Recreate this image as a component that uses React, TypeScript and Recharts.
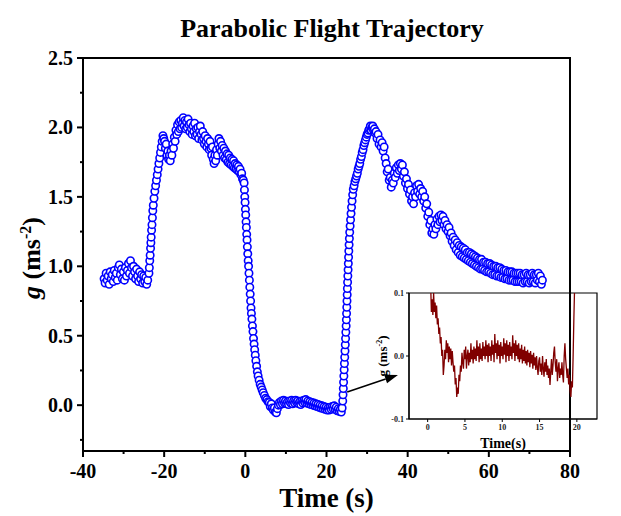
import React from 'react';
import { ScatterChart, Scatter, LineChart, Line, XAxis, YAxis, ReferenceArea, ReferenceLine, Label } from 'recharts';

const FONT = "'Liberation Serif', 'Times New Roman', serif";

// --- main flight record: [time (s), g (ms-2)] ---
const preFlight: number[][] = [
  [-34.8, 0.91], [-34.55, 0.88], [-34.3, 0.95], [-34.05, 0.9], [-33.8, 0.93], [-33.55, 0.87], [-33.3, 0.96],
  [-33.05, 0.91], [-32.8, 0.94], [-32.55, 0.89], [-32.3, 0.97], [-32.05, 0.92], [-31.8, 0.95], [-31.55, 0.9],
  [-31.3, 0.99], [-31.05, 1.01], [-30.8, 0.94], [-30.55, 0.98], [-30.3, 0.91], [-30.05, 0.96], [-29.8, 0.9],
  [-29.55, 0.99], [-29.3, 0.93], [-29.05, 0.97], [-28.8, 1.02], [-28.55, 0.95], [-28.3, 1.04], [-28.05, 0.99],
  [-27.8, 0.93], [-27.55, 1.0], [-27.3, 0.96], [-27.05, 0.91], [-26.8, 0.98], [-26.55, 0.93], [-26.3, 0.89],
  [-26.05, 0.96], [-25.8, 0.91], [-25.55, 0.94], [-25.3, 0.88], [-25.05, 0.93], [-24.8, 0.89], [-24.55, 0.92],
  [-24.3, 0.87], [-24.05, 0.9],
];

const pullUp: number[][] = [
  [-23.75, 0.95], [-23.65, 0.99], [-23.55, 1.04], [-23.45, 1.08], [-23.35, 1.13], [-23.27, 1.17], [-23.2, 1.21],
  [-23.1, 1.26], [-23.0, 1.3], [-22.9, 1.35], [-22.8, 1.4], [-22.68, 1.44], [-22.5, 1.49], [-22.3, 1.54],
  [-22.1, 1.58], [-21.9, 1.62], [-21.7, 1.66], [-21.5, 1.7], [-21.3, 1.74], [-21.1, 1.78], [-20.9, 1.82],
  [-20.7, 1.86], [-20.5, 1.9], [-20.3, 1.94], [-20.1, 1.92],
];

const hyperG: number[][] = [
  [-19.9, 1.9], [-19.7, 1.85], [-19.5, 1.88], [-19.3, 1.8], [-19.1, 1.83], [-18.9, 1.77], [-18.7, 1.8],
  [-18.5, 1.76], [-18.3, 1.83], [-18.1, 1.8], [-17.9, 1.88], [-17.7, 1.85], [-17.5, 1.93], [-17.3, 1.9],
  [-17.1, 1.98], [-16.9, 1.95], [-16.7, 2.02], [-16.5, 1.97], [-16.3, 2.04], [-16.1, 1.99], [-15.9, 2.05],
  [-15.7, 2.0], [-15.5, 2.03], [-15.3, 2.07], [-15.1, 2.01], [-14.9, 2.05], [-14.7, 1.99], [-14.5, 2.04],
  [-14.3, 2.0], [-14.1, 2.06], [-13.9, 2.02], [-13.7, 1.97], [-13.5, 2.03], [-13.3, 1.99], [-13.1, 1.95],
  [-12.9, 2.01], [-12.7, 1.97], [-12.5, 2.03], [-12.3, 1.94], [-12.1, 1.99], [-11.9, 1.95], [-11.7, 2.0],
  [-11.5, 1.92], [-11.3, 1.97], [-11.1, 2.01], [-10.9, 1.95], [-10.7, 1.91], [-10.5, 1.97], [-10.3, 1.92],
  [-10.1, 1.88], [-9.9, 1.94], [-9.7, 1.9], [-9.5, 1.86], [-9.3, 1.92], [-9.1, 1.88], [-8.9, 1.84],
  [-8.7, 1.9], [-8.5, 1.85], [-8.3, 1.8], [-8.1, 1.86], [-7.9, 1.77], [-7.7, 1.74], [-7.5, 1.8],
  [-7.3, 1.76], [-7.1, 1.84], [-6.9, 1.8], [-6.7, 1.88], [-6.5, 1.92], [-6.3, 1.85], [-6.1, 1.9],
  [-5.9, 1.83], [-5.7, 1.87], [-5.5, 1.8], [-5.3, 1.85], [-5.1, 1.78], [-4.9, 1.83], [-4.7, 1.77],
  [-4.5, 1.81], [-4.3, 1.75], [-4.1, 1.8], [-3.9, 1.74], [-3.7, 1.78], [-3.5, 1.73], [-3.3, 1.77],
  [-3.1, 1.72], [-2.9, 1.76], [-2.7, 1.71], [-2.5, 1.74], [-2.3, 1.7], [-2.1, 1.73], [-1.9, 1.69],
  [-1.7, 1.72], [-1.5, 1.68], [-1.3, 1.7], [-1.1, 1.66], [-0.9, 1.67], [-0.7, 1.63], [-0.5, 1.62],
];

const pushOver: number[][] = [
  [-0.3, 1.6], [-0.22, 1.55], [-0.14, 1.5], [-0.06, 1.46], [0.02, 1.41], [0.1, 1.37], [0.18, 1.32],
  [0.26, 1.28], [0.34, 1.23], [0.42, 1.19], [0.5, 1.14], [0.6, 1.09], [0.7, 1.04], [0.8, 1.0],
  [0.9, 0.95], [1.0, 0.9], [1.1, 0.85], [1.2, 0.8], [1.3, 0.75], [1.4, 0.7], [1.5, 0.66], [1.62, 0.62],
  [1.75, 0.57], [1.88, 0.53], [2.02, 0.48], [2.16, 0.44], [2.3, 0.4], [2.45, 0.36], [2.6, 0.32],
  [2.78, 0.28], [2.96, 0.24], [3.15, 0.21], [3.4, 0.18], [3.65, 0.15], [3.9, 0.13], [4.15, 0.11],
  [4.4, 0.09], [4.7, 0.07], [5.0, 0.05], [5.3, 0.04], [5.6, 0.025],
];

const microG: number[][] = [
  [5.9, 0.02], [6.15, -0.01], [6.4, 0.01], [6.65, -0.02], [6.9, -0.035], [7.15, -0.02], [7.4, -0.05],
  [7.65, -0.055], [7.9, -0.025], [8.15, 0.0], [8.4, 0.02], [8.65, 0.005], [8.9, 0.03], [9.15, 0.01],
  [9.4, 0.035], [9.65, 0.015], [9.9, 0.03], [10.15, 0.01], [10.4, 0.025], [10.65, 0.005], [10.9, 0.03],
  [11.15, 0.015], [11.4, 0.035], [11.65, 0.01], [11.9, 0.03], [12.15, 0.015], [12.4, 0.035], [12.65, 0.02],
  [12.9, 0.03], [13.15, 0.01], [13.4, 0.025], [13.65, 0.005], [13.9, 0.03], [14.15, 0.015], [14.4, 0.035],
  [14.65, 0.02], [14.9, 0.04], [15.15, 0.015], [15.4, 0.03], [15.65, 0.01], [15.9, 0.025], [16.15, 0.005],
  [16.4, 0.02], [16.65, 0.0], [16.9, 0.015], [17.15, -0.005], [17.4, 0.01], [17.65, -0.01], [17.9, 0.005],
  [18.15, -0.015], [18.4, 0.0], [18.65, -0.02], [18.9, -0.005], [19.15, -0.025], [19.4, -0.01],
  [19.65, -0.03], [19.9, -0.015], [20.15, -0.035], [20.4, -0.02], [20.65, -0.035], [20.9, -0.015],
  [21.15, -0.03], [21.4, -0.01], [21.65, -0.025], [21.9, -0.005], [22.15, -0.03], [22.4, -0.015],
  [22.65, -0.04], [22.9, -0.025], [23.15, -0.045], [23.4, -0.03], [23.65, -0.05], [23.85, -0.02],
];

const pullOut: number[][] = [
  [24.0, 0.03], [24.07, 0.075], [24.14, 0.12], [24.21, 0.165], [24.28, 0.21], [24.35, 0.255], [24.42, 0.3],
  [24.49, 0.345], [24.56, 0.39], [24.63, 0.435], [24.7, 0.48], [24.77, 0.525], [24.84, 0.57], [24.9, 0.615],
  [24.95, 0.66], [25.0, 0.705], [25.05, 0.75], [25.1, 0.795], [25.15, 0.84], [25.2, 0.885], [25.26, 0.93],
  [25.32, 0.975], [25.38, 1.02], [25.44, 1.065], [25.5, 1.11], [25.57, 1.155], [25.64, 1.2], [25.72, 1.245],
  [25.82, 1.29], [25.93, 1.335], [26.05, 1.38], [26.17, 1.425], [26.3, 1.47], [26.45, 1.515], [26.6, 1.555],
  [26.8, 1.58], [27.0, 1.61], [27.2, 1.63], [27.4, 1.65], [27.6, 1.67], [27.8, 1.7], [28.0, 1.72],
  [28.2, 1.74], [28.4, 1.77], [28.6, 1.79], [28.8, 1.82], [29.0, 1.84], [29.2, 1.87], [29.4, 1.89],
  [29.6, 1.91], [29.8, 1.93], [30.0, 1.95], [30.2, 1.96], [30.4, 1.98], [30.6, 1.99], [30.8, 2.01],
  [31.0, 1.98], [31.2, 2.0], [31.4, 2.01], [31.6, 1.98], [31.8, 1.99], [32.0, 1.96],
];

const recovery: number[][] = [
  [32.2, 1.97], [32.45, 1.92], [32.7, 1.95], [32.95, 1.88], [33.2, 1.91], [33.45, 1.86], [33.7, 1.89],
  [33.95, 1.83], [34.2, 1.86], [34.45, 1.78], [34.7, 1.74], [34.95, 1.68], [35.2, 1.7], [35.45, 1.62],
  [35.7, 1.64], [35.95, 1.57], [36.2, 1.62], [36.45, 1.6], [36.7, 1.67], [36.95, 1.64], [37.2, 1.71],
  [37.45, 1.67], [37.7, 1.73], [37.95, 1.69], [38.2, 1.74], [38.45, 1.7], [38.7, 1.73], [38.95, 1.65],
  [39.2, 1.68], [39.45, 1.6], [39.7, 1.63], [39.95, 1.56], [40.2, 1.59], [40.45, 1.52], [40.7, 1.55],
  [40.95, 1.47], [41.2, 1.5], [41.45, 1.45], [41.7, 1.53], [41.95, 1.5], [42.2, 1.58], [42.45, 1.54],
  [42.7, 1.59], [42.95, 1.52], [43.2, 1.56], [43.45, 1.5], [43.7, 1.54], [43.95, 1.47], [44.2, 1.5],
  [44.45, 1.42], [44.7, 1.45], [44.95, 1.36], [45.2, 1.39], [45.45, 1.3], [45.7, 1.33], [45.95, 1.24],
  [46.2, 1.27], [46.45, 1.23], [46.7, 1.3], [46.95, 1.27], [47.2, 1.34], [47.45, 1.3], [47.7, 1.36],
  [47.95, 1.32], [48.2, 1.37], [48.45, 1.33], [48.7, 1.36], [48.95, 1.3], [49.2, 1.33], [49.45, 1.27],
  [49.7, 1.3], [49.95, 1.25], [50.2, 1.28], [50.45, 1.22], [50.7, 1.24], [50.95, 1.18], [51.2, 1.21],
  [51.45, 1.15], [51.7, 1.19], [51.95, 1.12], [52.2, 1.17], [52.45, 1.1], [52.7, 1.15], [52.95, 1.08],
  [53.2, 1.14], [53.45, 1.07], [53.7, 1.13], [53.95, 1.06], [54.2, 1.12], [54.45, 1.05], [54.7, 1.1],
  [54.95, 1.04], [55.2, 1.1], [55.45, 1.03], [55.7, 1.09], [55.95, 1.02], [56.2, 1.08], [56.45, 1.01],
  [56.7, 1.07], [56.95, 1.0], [57.2, 1.06], [57.45, 0.99], [57.7, 1.05], [57.95, 0.98], [58.2, 1.05],
  [58.45, 0.98], [58.7, 1.03], [58.95, 0.97], [59.2, 1.03], [59.45, 0.96], [59.7, 1.02], [59.95, 0.96],
  [60.2, 1.02], [60.45, 0.95], [60.7, 1.01], [60.95, 0.94], [61.2, 1.0], [61.45, 0.94], [61.7, 1.0],
  [61.95, 0.93], [62.2, 0.99], [62.45, 0.93], [62.7, 0.99], [62.95, 0.92], [63.2, 0.98], [63.45, 0.92],
  [63.7, 0.97], [63.95, 0.91], [64.2, 0.97], [64.45, 0.91], [64.7, 0.96], [64.95, 0.9], [65.2, 0.96],
  [65.45, 0.9], [65.7, 0.96], [65.95, 0.9], [66.2, 0.95], [66.45, 0.89], [66.7, 0.95], [66.95, 0.89],
  [67.2, 0.95], [67.45, 0.89], [67.7, 0.95], [67.95, 0.89], [68.2, 0.94], [68.45, 0.88], [68.7, 0.94],
  [68.95, 0.89], [69.2, 0.95], [69.45, 0.89], [69.7, 0.94], [69.95, 0.88], [70.2, 0.94], [70.45, 0.89],
  [70.7, 0.95], [70.95, 0.89], [71.2, 0.94], [71.45, 0.88], [71.7, 0.94], [71.95, 0.9], [72.2, 0.95],
  [72.45, 0.89], [72.7, 0.93], [72.95, 0.87], [73.2, 0.9],
];

// --- zoom on the microgravity phase (inset): [time (s), g (ms-2)] ---
const insetTrace: number[][] = [
  [0.2, 0.13], [0.3, 0.1], [0.4, 0.115], [0.5, 0.07], [0.6, 0.09], [0.7, 0.065], [0.8, 0.1], [0.9, 0.07],
  [1.0, 0.085], [1.1, 0.06], [1.2, 0.08], [1.3, 0.05], [1.4, 0.06], [1.5, 0.035], [1.6, 0.045], [1.7, 0.02],
  [1.8, 0.03], [1.9, 0.0], [2.0, 0.01], [2.1, -0.03], [2.2, -0.015], [2.3, 0.01], [2.4, -0.005], [2.5, 0.025],
  [2.6, 0.005], [2.7, 0.02], [2.8, -0.01], [2.9, 0.015], [3.0, -0.005], [3.1, 0.012], [3.2, -0.015],
  [3.3, 0.008], [3.4, -0.01], [3.5, -0.025], [3.6, -0.015], [3.7, -0.045], [3.8, -0.035], [3.9, -0.065],
  [4.0, -0.05], [4.1, -0.06], [4.2, -0.03], [4.3, -0.04], [4.4, -0.015], [4.5, -0.025], [4.6, 0.005],
  [4.7, -0.01], [4.8, -0.02], [4.9, 0.01], [5.0, -0.005], [5.1, 0.015], [5.2, -0.02], [5.3, 0.0],
  [5.4, 0.01], [5.5, -0.015], [5.6, 0.005], [5.7, -0.01], [5.8, 0.02], [5.9, -0.005], [6.0, 0.01],
  [6.1, -0.012], [6.2, 0.015], [6.3, -0.005], [6.4, 0.012], [6.5, -0.008], [6.6, 0.025], [6.7, 0.0],
  [6.8, 0.015], [6.9, -0.01], [7.0, 0.02], [7.1, -0.005], [7.2, 0.012], [7.3, -0.008], [7.4, 0.022],
  [7.5, 0.0], [7.6, 0.015], [7.7, -0.005], [7.8, 0.025], [7.9, 0.0], [8.0, 0.018], [8.1, -0.01],
  [8.2, 0.02], [8.3, 0.0], [8.4, 0.015], [8.5, -0.008], [8.6, 0.025], [8.7, 0.002], [8.8, 0.018],
  [8.9, -0.01], [9.0, 0.035], [9.1, 0.005], [9.2, 0.02], [9.3, -0.005], [9.4, 0.025], [9.5, 0.0],
  [9.6, 0.018], [9.7, -0.012], [9.8, 0.022], [9.9, 0.0], [10.0, 0.015], [10.1, -0.005], [10.2, 0.028],
  [10.3, 0.002], [10.4, 0.02], [10.5, -0.01], [10.6, 0.025], [10.7, 0.0], [10.8, 0.018], [10.9, -0.008],
  [11.0, 0.022], [11.1, 0.0], [11.2, 0.015], [11.3, -0.005], [11.4, 0.033], [11.5, 0.005], [11.6, 0.02],
  [11.7, -0.008], [11.8, 0.025], [11.9, 0.0], [12.0, 0.018], [12.1, -0.005], [12.2, 0.02], [12.3, -0.01],
  [12.4, 0.012], [12.5, -0.005], [12.6, 0.018], [12.7, -0.012], [12.8, 0.01], [12.9, -0.008], [13.0, 0.015],
  [13.1, -0.012], [13.2, 0.008], [13.3, -0.015], [13.4, 0.01], [13.5, -0.01], [13.6, 0.005], [13.7, -0.018],
  [13.8, 0.008], [13.9, -0.012], [14.0, 0.002], [14.1, -0.02], [14.2, 0.005], [14.3, -0.015], [14.4, -0.002],
  [14.5, -0.022], [14.6, 0.0], [14.7, -0.018], [14.8, -0.03], [14.9, -0.008], [15.0, -0.002], [15.1, -0.025],
  [15.2, -0.012], [15.3, -0.03], [15.4, 0.0], [15.5, -0.02], [15.6, -0.033], [15.7, -0.01], [15.8, -0.025],
  [15.9, -0.005], [16.0, -0.03], [16.1, -0.015], [16.2, -0.035], [16.3, -0.02], [16.4, -0.046], [16.5, -0.025],
  [16.6, -0.005], [16.7, -0.03], [16.8, -0.015], [16.9, 0.005], [17.0, 0.015], [17.1, -0.01], [17.2, -0.025],
  [17.3, -0.005], [17.4, -0.04], [17.5, -0.02], [17.6, -0.01], [17.7, -0.035], [17.8, -0.02], [17.9, -0.03],
  [18.0, -0.01], [18.1, -0.03], [18.2, -0.042], [18.3, 0.0], [18.4, 0.02], [18.5, -0.005], [18.6, -0.02],
  [18.7, -0.035], [18.8, -0.02], [18.9, -0.045], [19.0, -0.03], [19.1, -0.055], [19.2, -0.065], [19.3, -0.04],
  [19.4, -0.05], [19.5, 0.0], [19.6, 0.06], [19.7, 0.11], [19.8, 0.15],
];

const xTicks = [-40, -30, -20, -10, 0, 10, 20, 30, 40, 50, 60, 70, 80];
const yTicks = [-0.25, 0, 0.25, 0.5, 0.75, 1, 1.25, 1.5, 1.75, 2, 2.25, 2.5];
const insetXTicks = [0, 5, 10, 15, 20];
const insetYTicks = [-0.1, 0, 0.1];

const flight = [...preFlight, ...pullUp, ...hyperG, ...pushOver, ...microG, ...pullOut, ...recovery].map(([t, g]) => ({ t, g }));
const insetData = insetTrace.map(([t, g]) => ({ t, g }));

const Ring = (p: any) => (
  <circle cx={p.cx} cy={p.cy} r={3.7} fill="#fff" stroke="#0000ff" strokeWidth={1.6} />
);

const txt = { fontFamily: FONT, fontWeight: 'bold' as const };

// tick size 6 + margin 4 -> axis sits 10px from the tick anchor
const YTick = ({ x, y, payload }: any) => {
  const v = payload.value;
  const major = Math.abs(v * 2 - Math.round(v * 2)) < 1e-6;
  const ax = x + 10;
  return (
    <g>
      <line x1={ax} x2={ax - (major ? 6 : 3)} y1={y} y2={y} stroke="#000" strokeWidth={2} />
      {major && (
        <text x={ax - 10} y={y} dy={7} textAnchor="end" style={{ ...txt, fontSize: 20 }} fill="#000">
          {v.toFixed(1)}
        </text>
      )}
    </g>
  );
};

const XTick = ({ x, y, payload }: any) => {
  const v = payload.value;
  const major = v % 20 === 0;
  const ay = y - 10;
  return (
    <g>
      <line x1={x} x2={x} y1={ay} y2={ay + (major ? 6 : 3)} stroke="#000" strokeWidth={2} />
      {major && (
        <text x={x} y={ay + 27} textAnchor="middle" style={{ ...txt, fontSize: 20 }} fill="#000">
          {v}
        </text>
      )}
    </g>
  );
};

const Arrow = (p: any) => {
  const { x1, y1, x2, y2 } = p;
  const a = Math.atan2(y2 - y1, x2 - x1);
  const L = 13, W = 4.5;
  const bx = x2 - L * Math.cos(a), by = y2 - L * Math.sin(a);
  const nx = -Math.sin(a) * W, ny = Math.cos(a) * W;
  return (
    <g>
      <line x1={x1} y1={y1} x2={bx} y2={by} stroke="#000" strokeWidth={1.6} />
      <polygon points={`${x2},${y2} ${bx + nx},${by + ny} ${bx - nx},${by - ny}`} fill="#000" />
    </g>
  );
};

export default function App() {
  return (
    <div style={{ position: 'absolute', left: 0, top: 0, width: 621, height: 516, background: '#fff' }}>
      <ScatterChart width={621} height={516} margin={{ top: 58, right: 51, left: 0, bottom: 0 }}>
        <text x={332} y={37} textAnchor="middle" style={{ ...txt, fontSize: 26 }} fill="#000">
          Parabolic Flight Trajectory
        </text>
        <XAxis
          type="number" dataKey="t" domain={[-40, 80]} ticks={xTicks} interval={0}
          height={65} tickSize={6} tickMargin={4} tickLine={false}
          axisLine={{ stroke: '#000', strokeWidth: 2 }} tick={<XTick />}
        >
          <Label value="Time (s)" position="insideBottom" offset={9} style={{ ...txt, fontSize: 27 }} fill="#000" />
        </XAxis>
        <YAxis
          type="number" dataKey="g" domain={[-0.33, 2.5]} ticks={yTicks} interval={0}
          width={83} tickSize={6} tickMargin={4} tickLine={false}
          axisLine={{ stroke: '#000', strokeWidth: 2 }} tick={<YTick />}
        />
        <ReferenceArea x1={-40} x2={80} y1={-0.33} y2={2.5} fill="none" stroke="#000" strokeWidth={2} />
        <Scatter data={flight} shape={<Ring />} isAnimationActive={false} />
        <ReferenceLine segment={[{ x: 25.1, y: 0.095 }, { x: 37.6, y: 0.218 }]} shape={<Arrow />} />
        <text transform="translate(40,258) rotate(-90)" textAnchor="middle" style={{ ...txt, fontSize: 26 }} fill="#000">
          <tspan fontStyle="italic">g</tspan> (ms<tspan dy={-9} fontSize={16}>-2</tspan><tspan dy={9}>)</tspan>
        </text>
      </ScatterChart>

      <div style={{ position: 'absolute', left: 370, top: 285 }}>
        <LineChart width={230} height={170} data={insetData} margin={{ top: 8, right: 3, left: 0, bottom: 0 }}>
          <XAxis
            type="number" dataKey="t" domain={[-2.5, 22.7]} ticks={insetXTicks} interval={0} allowDataOverflow
            height={36} tickSize={3} tickMargin={2} axisLine={{ stroke: '#000', strokeWidth: 1.2 }}
            tickLine={{ stroke: '#000' }} tick={{ fontSize: 8, fontWeight: 'bold', fontFamily: FONT, fill: '#222' }}
          >
            <Label value="Time(s)" position="insideBottom" offset={7} style={{ ...txt, fontSize: 14 }} fill="#000" />
          </XAxis>
          <YAxis
            type="number" dataKey="g" domain={[-0.1, 0.1]} ticks={insetYTicks} interval={0} allowDataOverflow
            width={39} tickSize={3} tickMargin={2} axisLine={{ stroke: '#000', strokeWidth: 1.2 }}
            tickLine={{ stroke: '#000' }} tickFormatter={(v: number) => v.toFixed(1)}
            tick={{ fontSize: 8, fontWeight: 'bold', fontFamily: FONT, fill: '#222' }}
          />
          <ReferenceArea x1={-2.5} x2={22.7} y1={-0.1} y2={0.1} fill="none" stroke="#000" strokeWidth={1.2} />
          <Line type="linear" dataKey="g" stroke="#800000" strokeWidth={1.3} dot={false} isAnimationActive={false} />
          <text transform="translate(17,71) rotate(-90)" textAnchor="middle" style={{ ...txt, fontSize: 13 }} fill="#000">
            g (ms<tspan dy={-5} fontSize={8}>-2</tspan><tspan dy={5}>)</tspan>
          </text>
        </LineChart>
      </div>
    </div>
  );
}
